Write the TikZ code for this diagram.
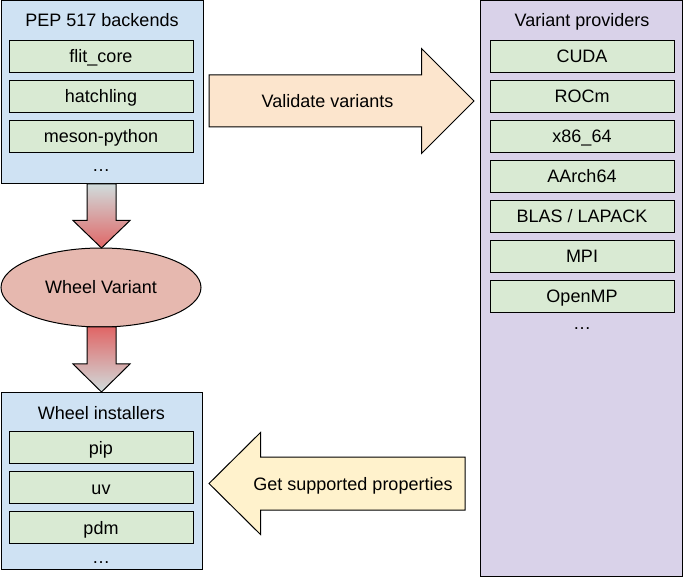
\documentclass[tikz,border=0pt]{standalone}
\usepackage{fontspec}
\setmainfont{Liberation Sans}
\usepackage{tikz}
\usetikzlibrary{shapes.geometric}

\definecolor{groupblue}{HTML}{CFE2F3}
\definecolor{grouppurple}{HTML}{D9D2E9}
\definecolor{itemgreen}{HTML}{D9EAD3}
\definecolor{wheelred}{HTML}{E6B8AF}
\definecolor{arrowred}{HTML}{E06666}
\definecolor{arrowgrey}{HTML}{D0DCDC}
\definecolor{validorange}{HTML}{FCE5CD}
\definecolor{getyellow}{HTML}{FFF2CC}

\begin{document}
\begin{tikzpicture}[x=1pt,y=-1pt,line width=1pt,
  font=\fontsize{18}{21}\selectfont,
  txt/.style={text height=13pt,text depth=0pt,inner sep=0pt},
  group/.style={draw,rectangle,inner sep=0pt},
  item/.style={draw,rectangle,fill=itemgreen,minimum width=184pt,minimum height=31.5pt,txt}]
\useasboundingbox (0,0) rectangle (683,577);

%left top: backends
\node [group,fill=groupblue,minimum width=202pt,minimum height=183pt] (pep) at(102,92.5){};
\node [txt] (peptitle) at(102,20){PEP 517 backends};
\node [item] (flit) at(101,56.5){flit\_core};
\node [item] (hatch) at(101,96.5){hatchling};
\node [item] (meson) at(101,136.5){meson-python};
\node [txt] (pepdots) at(101,165.5){…};

%left bottom: installers
\node [group,fill=groupblue,minimum width=201pt,minimum height=176.5pt] (inst) at(101.5,481){};
\node [txt] (insttitle) at(101.5,412.5){Wheel installers};
\node [item] (pip) at(101,447.5){pip};
\node [item] (uv) at(101,487.5){uv};
\node [item] (pdm) at(101,527.5){pdm};
\node [txt] (instdots) at(101,556.5){…};

%right: providers
\node [group,fill=grouppurple,minimum width=201.5pt,minimum height=575pt] (prov) at(581.5,288.5){};
\node [txt] (provtitle) at(582,20){Variant providers};
\node [item] (cuda) at(582,56.5){CUDA};
\node [item] (rocm) at(582,96.5){ROCm};
\node [item] (x86) at(582,136.5){x86\_64};
\node [item] (aarch) at(582,176.5){AArch64};
\node [item] (blas) at(582,216.5){BLAS / LAPACK};
\node [item] (mpi) at(582,256.5){MPI};
\node [item] (omp) at(582,296.5){OpenMP};
\node [txt] (provdots) at(582,323.5){…};

%middle: wheel variant
\node [draw,ellipse,fill=wheelred,minimum width=200pt,minimum height=79pt,txt] (wheel) at(101,287.5){Wheel Variant};

%block arrows
\shade [draw,top color=arrowgrey,bottom color=arrowred]
  (87,184) -- (116,184) -- (116,220.5) -- (130,220.5) -- (101.5,248) -- (73,220.5) -- (87,220.5) -- cycle;
\shade [draw,top color=arrowred,bottom color=arrowgrey]
  (87,327) -- (116,327) -- (116,364) -- (130,364) -- (101.5,392) -- (73,364) -- (87,364) -- cycle;
\draw [fill=validorange]
  (209,75) -- (421.5,75) -- (421.5,48.5) -- (474,101) -- (421.5,153.5) -- (421.5,127) -- (209,127) -- cycle;
\draw [fill=getyellow]
  (465,457) -- (260.5,457) -- (260.5,432.5) -- (209,483.5) -- (260.5,534.5) -- (260.5,510) -- (465,510) -- cycle;

\node [txt] (validate) at(327.5,101){Validate variants};
\node [txt] (getprops) at(353,483.5){Get supported properties};

\end{tikzpicture}
\end{document}
